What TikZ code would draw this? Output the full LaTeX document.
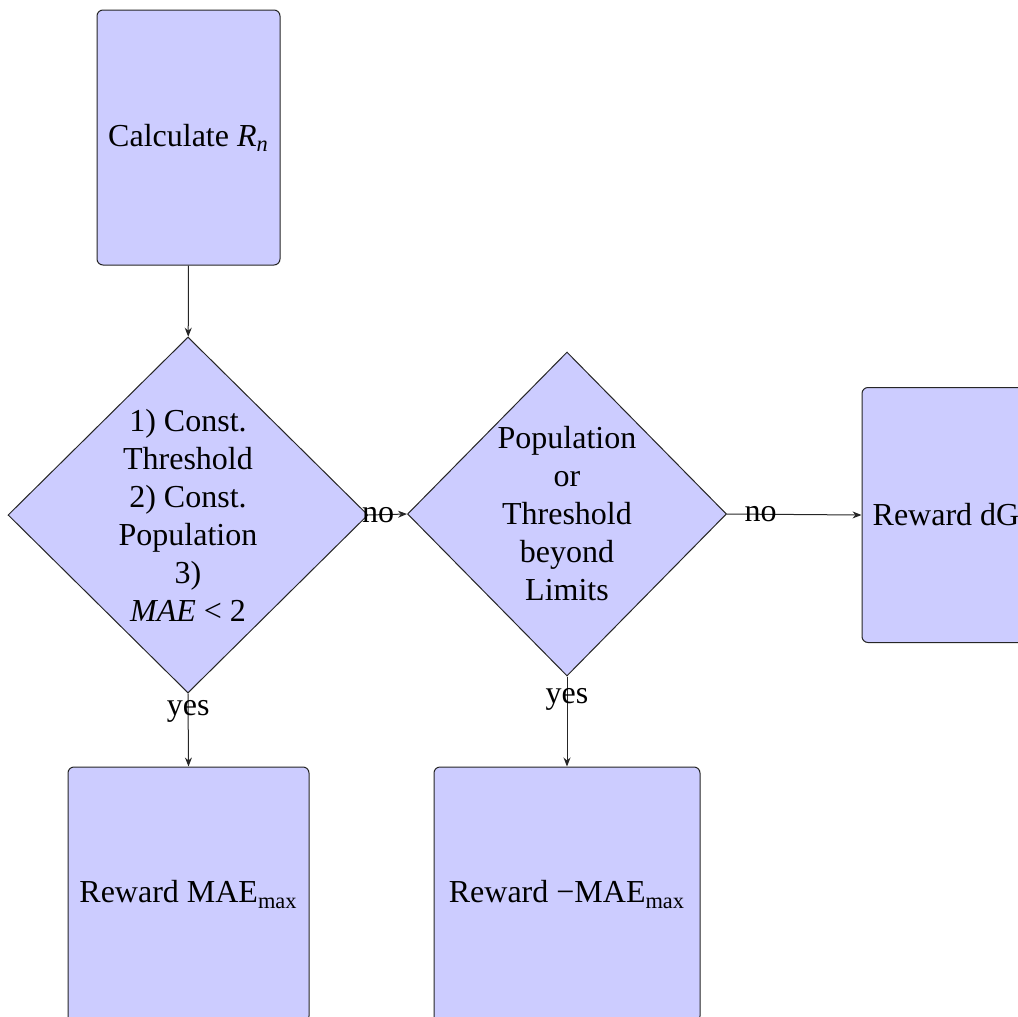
\documentclass[tikz,border=0pt]{standalone}
\usepackage{fontspec}
\setmainfont{Liberation Serif}
\usetikzlibrary{shapes.geometric,arrows.meta}
\begin{document}
\begin{tikzpicture}[x=1pt,y=1pt,line width=0.5pt,
  every node/.style={font=\fontsize{16}{19}\selectfont},
  box/.style={draw=black!85,fill=blue!20,rounded corners=3pt,inner sep=0pt,align=center},
  decision/.style={draw=black!85,fill=blue!20,diamond,inner sep=0pt},
  flow/.style={draw=black!85,-{Stealth[length=4.5pt,width=3.5pt]}},
  lbl/.style={pos=0.25,inner sep=0pt}]
\useasboundingbox (0,0) rectangle (509,-508.5);
\node[box,minimum width=91.5pt,minimum height=127.5pt] (calc) at (94.25,-68.75) {Calculate \textit{R\textsubscript{n}}};
\node[decision,minimum width=180pt,minimum height=178pt,
  label={[align=center]center:1) Const.\\Threshold\\2) Const.\\Population\\3)\\\textit{MAE} < 2}] (d1) at (94,-257.5) {};
\node[decision,minimum width=159.5pt,minimum height=162pt,
  label={[align=center]center:Population\\or\\Threshold\\beyond\\Limits}] (d2) at (283.5,-257) {};
\node[box,minimum width=84pt,minimum height=127.5pt] (dg) at (473,-257.5) {Reward dG};
\node[box,minimum width=120.5pt,minimum height=127.5pt] (rmax) at (94.25,-447.25) {Reward MAE\textsubscript{max}};
\node[box,minimum width=133pt,minimum height=127.5pt] (rneg) at (283.5,-447.25) {Reward −MAE\textsubscript{max}};
\draw[flow] (calc) -- (d1);
\draw[flow] (d1.east) -- node[lbl] (no1) {no} (d2.west);
\draw[flow] (d2.east) -- node[lbl] (no2) {no} (dg.west);
\draw[flow] (d1.south) -- node[lbl] (yes1) {yes} (rmax.north);
\draw[flow] (d2.south) -- node[lbl] (yes2) {yes} (rneg.north);
\end{tikzpicture}
\end{document}
